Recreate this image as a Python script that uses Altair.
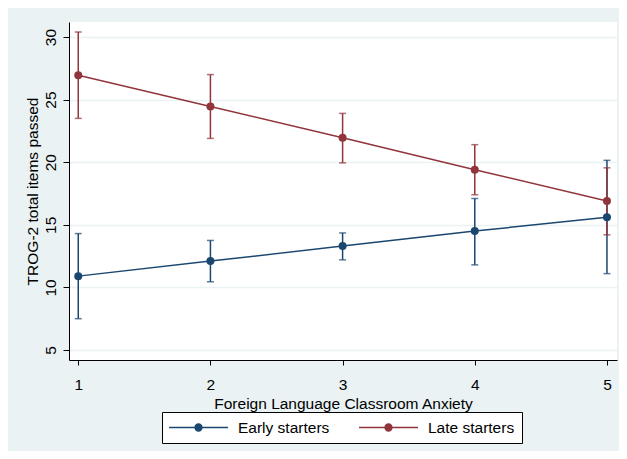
import altair as alt
import pandas as pd

anxiety = [1, 2, 3, 4, 5]
groups = ["Early starters", "Late starters"]
early_mean = [10.9, 12.1, 13.3, 14.5, 15.6]
early_lo = [7.5, 10.45, 12.2, 11.8, 11.1]
early_hi = [14.3, 13.75, 14.35, 17.1, 20.15]
late_mean = [26.95, 24.45, 21.95, 19.4, 16.9]
late_lo = [23.5, 21.9, 19.95, 17.4, 14.2]
late_hi = [30.4, 27.0, 23.9, 21.4, 19.55]
y_ticks = [5, 10, 15, 20, 25, 30]

rows = []
for g, m, lo, hi in [(groups[0], early_mean, early_lo, early_hi),
                     (groups[1], late_mean, late_lo, late_hi)]:
    for i, x in enumerate(anxiety):
        rows.append({"x": x, "group": g, "mean": m[i], "lo": lo[i], "hi": hi[i]})
df = pd.DataFrame(rows)

FONT = "Liberation Sans"
NAVY = "#1A476F"
MAROON = "#90353B"
BG = "#EAF2F3"

legend = alt.Legend(
    title=None,
    orient="none",
    legendX=93,
    legendY=390,
    direction="horizontal",
    columns=2,
    symbolType="M-4,0L4,0M-0.46,0a0.46,0.46 0 1,0 0.92,0a0.46,0.46 0 1,0 -0.92,0Z",
    symbolSize=217,
    symbolStrokeWidth=1.5,
    symbolOpacity=1,
    symbolOffset=21,
    labelFont=FONT,
    labelFontSize=15.5,
    labelColor="black",
    labelOffset=31,
    columnPadding=26,
    padding=7,
    strokeColor="black",
    fillColor="white",
    labelLimit=300,
)
color = alt.Color("group:N", scale=alt.Scale(domain=groups, range=[NAVY, MAROON]),
                  legend=legend)

xs = alt.Scale(domain=[0.93, 5.076], nice=False, zero=False)
ys = alt.Scale(domain=[4.2, 31.2], nice=False, zero=False)

x_enc = alt.X(
    "x:Q", scale=xs,
    axis=alt.Axis(
        values=anxiety, format="d", title="Foreign Language Classroom Anxiety",
        grid=False, tickSize=5, labelPadding=12, labelFontSize=15.5,
        titleFontSize=15.5, titleFontWeight="normal", titleX=274, titleY=48,
        titleBaseline="alphabetic", titleAlign="center",
    ),
)
y_enc = alt.Y(
    "mean:Q", scale=ys,
    axis=alt.Axis(
        values=y_ticks, title="TROG-2 total items passed", grid=True,
        gridColor=BG, gridWidth=1.3, tickSize=6, labelAngle=270,
        labelAlign="center", labelBaseline="bottom", labelPadding=5,
        labelFontSize=15.5, titleFontSize=15.5, titleFontWeight="normal",
        titleAngle=270, titleX=-32, titleY=169, titleAlign="center",
        titleBaseline="alphabetic",
    ),
)

base = alt.Chart(df)

bars = base.mark_rule(strokeWidth=1.5).encode(
    x=alt.X("x:Q", scale=xs), y=alt.Y("lo:Q", scale=ys), y2="hi:Q", color=color)
cap_lo = base.mark_tick(orient="horizontal", size=7, thickness=1.5).encode(
    x=alt.X("x:Q", scale=xs), y=alt.Y("lo:Q", scale=ys), color=color)
cap_hi = base.mark_tick(orient="horizontal", size=7, thickness=1.5).encode(
    x=alt.X("x:Q", scale=xs), y=alt.Y("hi:Q", scale=ys), color=color)
line = base.mark_line(strokeWidth=1.5).encode(x=x_enc, y=y_enc, color=color)
pts = base.mark_point(filled=True, size=64, opacity=1).encode(
    x=alt.X("x:Q", scale=xs), y=alt.Y("mean:Q", scale=ys), color=color)

chart = alt.layer(bars, cap_lo, cap_hi, line, pts).properties(
    width=548, height=338,
    autosize=alt.AutoSizeParams(type="none"),
    padding={"left": 61, "top": 14, "right": 2, "bottom": 91},
    background=BG,
).configure_view(
    fill="white", stroke=None
).configure_axis(
    labelFont=FONT, titleFont=FONT, labelColor="black", titleColor="black",
    domainColor="black", tickColor="black", domainWidth=1, tickWidth=1,
)

chart.save("out.html", embed_options={"renderer": "svg", "actions": False})
